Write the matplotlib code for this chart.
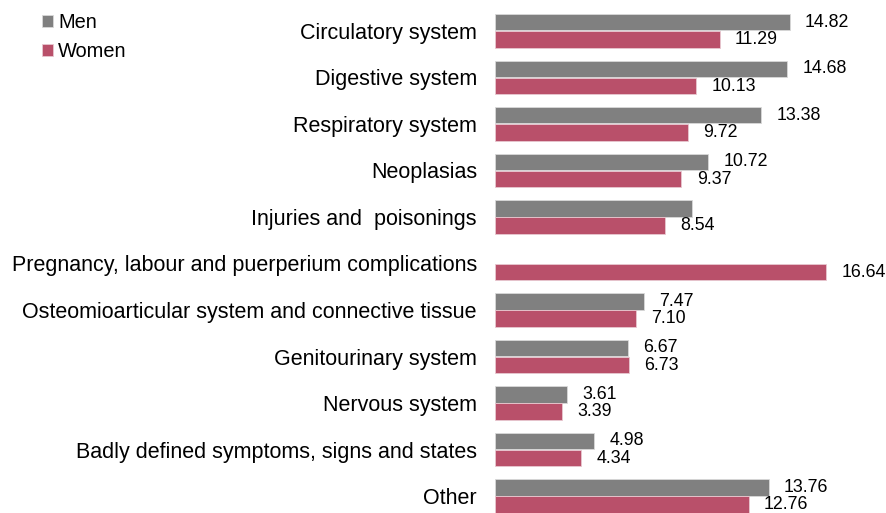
import matplotlib.pyplot as plt
import numpy as np

plt.rcParams['font.family'] = ['Liberation Sans', 'DejaVu Sans']

categories = ['Circulatory system', 'Digestive system', 'Respiratory system',
              'Neoplasias', 'Injuries and  poisonings',
              'Pregnancy, labour and puerperium complications',
              'Osteomioarticular system and connective tissue',
              'Genitourinary system', 'Nervous system',
              'Badly defined symptoms, signs and states', 'Other']
men = [14.82, 14.68, 13.38, 10.72, 9.90, np.nan, 7.47, 6.67, 3.61, 4.98, 13.76]
women = [11.29, 10.13, 9.72, 9.37, 8.54, 16.64, 7.10, 6.73, 3.39, 4.34, 12.76]
# the injuries bar for men carries no value label
men_labels = ['14.82', '14.68', '13.38', '10.72', '', '', '7.47', '6.67',
              '3.61', '4.98', '13.76']
women_labels = [f'{v:.2f}' for v in women]

men_color = '#808080'
women_color = '#B9506A'


def main():
    fig = plt.figure(figsize=(8.86, 5.13), dpi=100)
    ax = fig.add_axes([495 / 886, 0, 358 / 886, 1])

    y = np.arange(len(categories))
    h = 0.35
    off = 0.185
    b1 = ax.barh(y - off, men, height=h, color=men_color,
                 edgecolor='#d9d9d9', linewidth=0.6, label='Men')
    b2 = ax.barh(y + off, women, height=h, color=women_color,
                 edgecolor='#e8c8d0', linewidth=0.6, label='Women')

    for bars, labels in ((b1, men_labels), (b2, women_labels)):
        for rect, lab in zip(bars, labels):
            if not lab:
                continue
            ax.annotate(lab, (rect.get_width(), rect.get_y() + rect.get_height() / 2),
                        xytext=(11, 0), textcoords='offset points',
                        ha='left', va='center', fontsize=12.8)

    ax.set_xlim(0, 18)
    ax.set_ylim(10 + 17 / 46.6, -31 / 46.6)
    ax.set_yticks(y)
    ax.set_yticklabels(categories, fontsize=15.5)
    ax.tick_params(axis='y', length=0, pad=13)
    ax.set_xticks([])
    for s in ax.spines.values():
        s.set_visible(False)

    fig.legend(handles=[b1, b2], loc='upper left', bbox_to_anchor=(0.027, 1.01),
               frameon=False, fontsize=14.4, handlelength=0.55, handleheight=0.55,
               handletextpad=0.25, labelspacing=0.5, borderpad=0.4)

    fig.savefig('out.png', dpi=100)


main()
